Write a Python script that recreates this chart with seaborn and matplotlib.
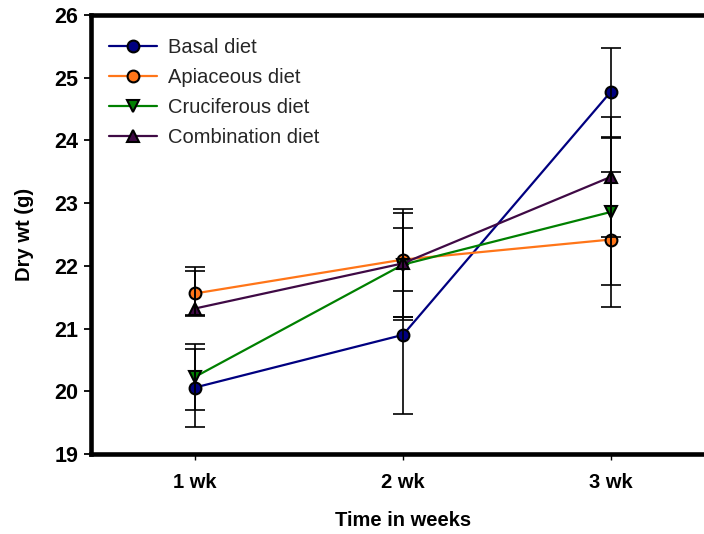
import matplotlib
matplotlib.use("Agg")
import matplotlib.pyplot as plt
import numpy as np
import pandas as pd
import seaborn as sns

# Sampling times and their labels
weeks = [1, 2, 3]
week_labels = ["1 wk", "2 wk", "3 wk"]

diets = ["Basal diet", "Apiaceous diet", "Cruciferous diet", "Combination diet"]

# Mean dry weight (g)
basal = [20.06, 20.90, 24.78]
apiaceous = [21.56, 22.10, 22.42]
cruciferous = [20.23, 22.02, 22.86]
combination = [21.32, 22.04, 23.42]

# Error bar limits (lower / upper) in g
basal_lo = [19.43, 19.64, 24.06]
basal_hi = [20.67, 21.19, 25.48]
apiaceous_lo = [21.20, 21.60, 21.34]
apiaceous_hi = [21.98, 22.91, 23.49]
cruciferous_lo = [19.70, 21.13, 21.70]
cruciferous_hi = [20.75, 22.61, 24.04]
combination_lo = [21.22, 21.19, 22.46]
combination_hi = [21.92, 22.85, 24.37]

means = [basal, apiaceous, cruciferous, combination]
lows = [basal_lo, apiaceous_lo, cruciferous_lo, combination_lo]
highs = [basal_hi, apiaceous_hi, cruciferous_hi, combination_hi]

colors = {
    "Basal diet": "#000080",
    "Apiaceous diet": "#FF7518",
    "Cruciferous diet": "#008000",
    "Combination diet": "#3F0A45",
}
markers = {
    "Basal diet": "o",
    "Apiaceous diet": "o",
    "Cruciferous diet": "v",
    "Combination diet": "^",
}

df = pd.DataFrame(
    {
        "week": np.tile(weeks, len(diets)),
        "diet": np.repeat(diets, len(weeks)),
        "weight": np.concatenate(means),
    }
)

sns.set_theme(style="white")
plt.rcParams["font.family"] = ["Liberation Sans", "DejaVu Sans"]

fig = plt.figure(figsize=(7.04, 5.34), dpi=100)
ax = fig.add_axes([91 / 704, 1 - 454 / 534, 624 / 704, 439 / 534])

sns.lineplot(
    data=df, x="week", y="weight", hue="diet", style="diet",
    hue_order=diets, style_order=diets, palette=colors,
    markers=markers, dashes=False, linewidth=1.6,
    markersize=8.5, markeredgecolor="black", markeredgewidth=1.5,
    legend=False, ax=ax, zorder=3,
)

# Error bars drawn over the lines and markers
for m, lo, hi in zip(means, lows, highs):
    m = np.asarray(m)
    yerr = [m - np.asarray(lo), np.asarray(hi) - m]
    ax.errorbar(weeks, m, yerr=yerr, fmt="none", ecolor="black",
                elinewidth=1.2, capsize=7, capthick=1.2, zorder=5)

ax.set_xlim(0.5, 3.5)
ax.set_ylim(19, 26)
ax.set_yticks(range(19, 27))
ax.set_xticks(weeks)
ax.set_xticklabels(week_labels)

for side in ["top", "left", "bottom"]:
    ax.spines[side].set_linewidth(3.3)
    ax.spines[side].set_color("black")
ax.spines["right"].set_visible(False)

ax.tick_params(axis="y", direction="out", length=5, width=1.3, pad=4,
               labelsize=15.5, left=True, colors="black")
ax.tick_params(axis="x", direction="out", length=4, width=1.0, pad=10,
               labelsize=14.5, bottom=True, colors="black")
for lab in ax.get_xticklabels() + ax.get_yticklabels():
    lab.set_fontweight("bold")

ax.set_xlabel("Time in weeks", fontsize=14.5, fontweight="bold", color="black")
ax.set_ylabel("Dry wt (g)", fontsize=14.5, fontweight="bold", color="black")
ax.xaxis.set_label_coords(0.5, -0.13)
ax.yaxis.set_label_coords(-0.091, 0.5)

handles = ax.get_lines()[: len(diets)]
ax.legend(handles, diets, loc="upper left", bbox_to_anchor=(0.006, 0.98),
          frameon=False, fontsize=14.5, handlelength=2.4, handletextpad=0.55,
          labelspacing=0.55, borderaxespad=0.3)

fig.savefig("out.png", dpi=100)
